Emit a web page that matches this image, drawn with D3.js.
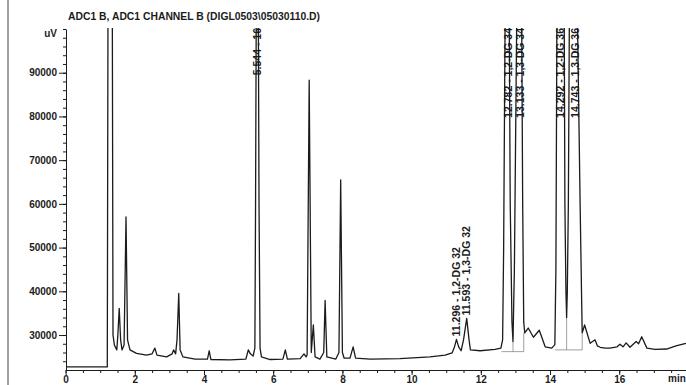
<!DOCTYPE html>
<html>
<head>
<meta charset="utf-8">
<script src="https://cdn.jsdelivr.net/npm/d3@7"></script>
<style>
  body { margin: 0; background: #fff; }
  svg { display: block; font-family: "Liberation Sans", Arial, sans-serif; }
</style>
</head>
<body>
<svg id="chart" width="686" height="385"></svg>
<script>
// chromatogram trace (time in min, signal in uV)
const traceTime = [
  0, 1.205, 1.225, 1.35, 1.37, 1.41, 1.48, 1.51, 1.55, 1.59, 1.63, 1.69, 1.746, 1.79, 1.86,
  2.05, 2.34, 2.50, 2.58, 2.64, 2.92, 3.08, 3.12, 3.18, 3.22, 3.27, 3.31, 3.39, 3.74,
  4.10, 4.15, 4.20, 4.75, 5.21, 5.28, 5.34, 5.42, 5.47, 5.49, 5.51, 5.57, 5.59, 5.62, 5.66,
  5.91, 6.28, 6.35, 6.41, 6.78, 6.89, 6.95, 6.98, 7.04, 7.10, 7.16, 7.21, 7.35, 7.46, 7.50,
  7.55, 7.81, 7.90, 7.95, 8.00, 8.05, 8.22, 8.31, 8.38, 8.80, 9.66, 10.53, 10.97, 11.17,
  11.24, 11.296, 11.36, 11.43, 11.50, 11.593, 11.66, 11.70, 11.98, 12.41, 12.58, 12.63,
  12.66, 12.70, 12.72, 12.82, 12.85, 12.90, 12.93, 12.97, 13.04, 13.18, 13.21, 13.24, 13.27,
  13.37, 13.52, 13.69, 13.86, 14.05, 14.14, 14.17, 14.20, 14.41, 14.43, 14.46, 14.48, 14.50,
  14.53, 14.56, 14.79, 14.87, 14.91, 14.93, 15.00, 15.16, 15.30, 15.37, 15.45, 15.60, 15.73,
  15.94, 16.02, 16.11, 16.20, 16.31, 16.49, 16.56, 16.65, 16.80, 17.03, 17.37, 17.64, 17.93
];
const traceValue = [
  22700, 22700, 104000, 104000, 30000, 27700, 26600, 30000, 36100, 28900, 26600, 27700, 57000, 28900, 26600,
  25800, 25400, 25700, 27000, 25400, 25000, 25700, 26600, 25700, 28900, 39500, 26600, 25000, 24500,
  24500, 26400, 24400, 24300, 24500, 26600, 25700, 25200, 27000, 60000, 104000, 104000, 60000, 27000, 25000,
  24400, 24500, 26600, 24500, 24600, 25700, 25000, 25500, 88300, 26000, 32300, 25000, 24500, 26000, 37900,
  25000, 24500, 26000, 65500, 26000, 24700, 24700, 27300, 24700, 24500, 24600, 25000, 25400, 25900,
  27300, 29000, 27300, 26400, 28900, 33800, 28900, 26600, 26400, 26700, 27000, 28900,
  50000, 100000, 104000, 104000, 60000, 33000, 28500, 45000, 104000, 104000, 60000, 33000, 30500,
  31600, 29500, 31100, 27300, 27000, 27800, 45000, 104000, 104000, 60000, 40000, 34000, 40000,
  60000, 104000, 104000, 60000, 40000, 30500, 32300, 28100, 28900, 27500, 27200, 27000, 27000,
  27300, 27900, 27300, 28200, 27200, 28500, 28000, 29600, 27000, 26700, 26800, 27500, 28100
];

const xTicks = [0, 2, 4, 6, 8, 10, 12, 14, 16];
const yTicks = [30000, 40000, 50000, 60000, 70000, 80000, 90000];

const peakTimes = [5.544, 11.296, 11.593, 12.782, 13.133, 14.292, 14.743];
const peakNames = ["5.544 - 16", "11.296 - 1,2-DG 32", "11.593 - 1,3-DG 32",
  "12.782 - 1,2-DG 34", "13.133 - 1,3-DG 34", "14.292 - 1,2-DG 36", "14.743 - 1,3-DG 36"];

// integration drop lines and baselines
const dropTimes = [12.93, 13.24, 14.48, 14.93];
const dropTops = [28500, 30500, 34000, 30500];
const dropBases = [26200, 26200, 26600, 26600];
const baseStart = [12.60, 14.14];
const baseEnd = [13.24, 14.93];
const baseLevel = [26200, 26600];

const titleText = "ADC1 B, ADC1 CHANNEL B (DIGL0503\\05030110.D)";

const svg = d3.select("#chart");
const ink = "#1b1b1b";

const x = d3.scaleLinear().domain([0, 17.93]).range([65.6, 686]);
const y = d3.scaleLinear().domain([22000, 100000]).range([370, 29]);

// page edge line of the scan
svg.append("line").attr("x1", 8).attr("x2", 8).attr("y1", 0).attr("y2", 385)
  .attr("stroke", "#444").attr("stroke-width", 1);

svg.append("text").attr("x", 68).attr("y", 20)
  .attr("font-size", 10).attr("font-weight", "bold").attr("fill", ink)
  .attr("textLength", 252).attr("lengthAdjust", "spacingAndGlyphs")
  .text(titleText);

svg.append("text").attr("x", 57).attr("y", 37).attr("text-anchor", "end")
  .attr("font-size", 10).attr("font-weight", "bold").attr("fill", ink)
  .text("uV");

// y axis
const yMinor = svg.append("g").attr("transform", "translate(66,0)")
  .call(d3.axisLeft(y).tickValues(d3.range(24000, 100001, 2000)).tickSize(3).tickSizeOuter(0).tickFormat(""));
yMinor.select(".domain").remove();
const yAxis = svg.append("g").attr("transform", "translate(66,0)")
  .call(d3.axisLeft(y).tickValues(yTicks).tickSize(7).tickSizeOuter(0).tickPadding(2).tickFormat(d3.format("d")));

// x axis
const xMinor = svg.append("g").attr("transform", "translate(0,370)")
  .call(d3.axisBottom(x).tickValues(d3.range(0, 17.93, 0.5)).tickSize(3).tickSizeOuter(0).tickFormat(""));
xMinor.select(".domain").remove();
const xAxis = svg.append("g").attr("transform", "translate(0,370)")
  .call(d3.axisBottom(x).tickValues(xTicks).tickSize(5).tickSizeOuter(0).tickPadding(1));

svg.selectAll(".tick text").attr("font-size", 10).attr("font-weight", "bold")
  .attr("fill", ink).attr("font-family", "Liberation Sans, Arial, sans-serif");
svg.selectAll(".domain, .tick line").attr("stroke", ink).attr("stroke-width", 1);

svg.append("text").attr("x", 668).attr("y", 382)
  .attr("font-size", 10).attr("font-weight", "bold").attr("fill", ink)
  .text("min");

// plot area clip
svg.append("clipPath").attr("id", "plotclip")
  .append("rect").attr("x", 66).attr("y", 28).attr("width", 620).attr("height", 342);

const plot = svg.append("g").attr("clip-path", "url(#plotclip)");

// integration baselines
plot.selectAll(".base").data(baseStart).join("line")
  .attr("x1", (d, i) => x(d)).attr("x2", (d, i) => x(baseEnd[i]))
  .attr("y1", (d, i) => y(baseLevel[i])).attr("y2", (d, i) => y(baseLevel[i]))
  .attr("stroke", "#777").attr("stroke-width", 0.7);
plot.selectAll(".drop").data(dropTimes).join("line")
  .attr("x1", d => x(d)).attr("x2", d => x(d))
  .attr("y1", (d, i) => y(dropTops[i])).attr("y2", (d, i) => y(dropBases[i]))
  .attr("stroke", "#777").attr("stroke-width", 0.7);

const line = d3.line().x(d => x(d[0])).y(d => y(d[1]));
plot.append("path")
  .datum(traceTime.map((t, i) => [t, traceValue[i]]))
  .attr("d", line)
  .attr("fill", "none").attr("stroke", ink).attr("stroke-width", 1.3)
  .attr("stroke-linejoin", "round");

// peak labels: above apex, or hanging from the top if the peak runs off scale
const yTop = y.domain()[1];
peakTimes.forEach((pt, k) => {
  let apex = 0;
  traceTime.forEach((t, i) => { if (Math.abs(t - pt) <= 0.12) apex = Math.max(apex, traceValue[i]); });
  const clipped = apex >= yTop;
  const py = clipped ? 28 : y(apex) - 3;
  svg.append("text")
    .attr("transform", `translate(${x(pt)},${py}) rotate(-90)`)
    .attr("text-anchor", clipped ? "end" : "start")
    .attr("dy", "0.35em")
    .attr("font-size", 10.5).attr("font-weight", "bold").attr("fill", ink)
    .text(peakNames[k]);
});
</script>
</body>
</html>
